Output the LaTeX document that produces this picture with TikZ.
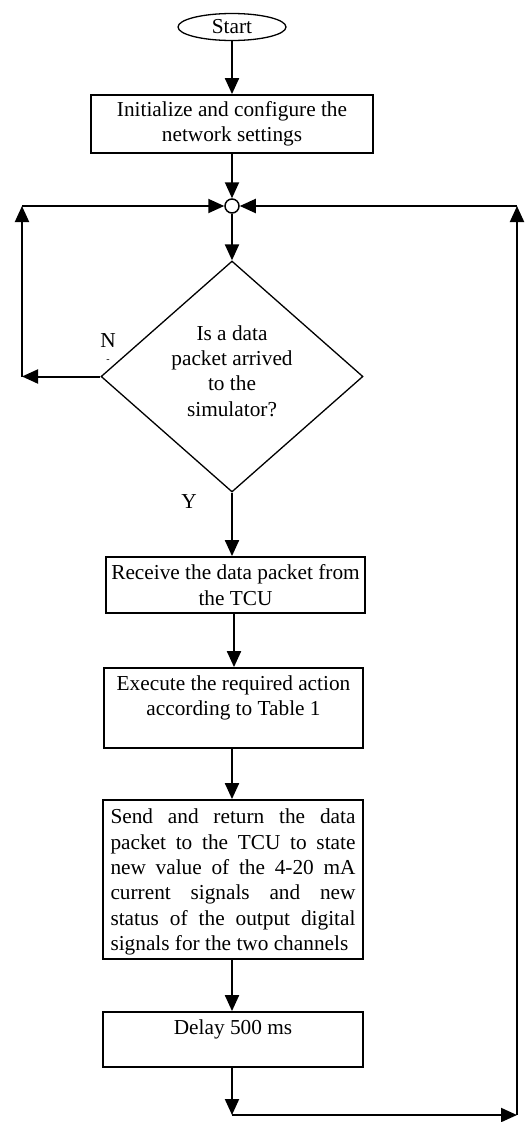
\documentclass[tikz,border=0pt]{standalone}
\usepackage{fontspec}
\setmainfont{Liberation Serif}
\usetikzlibrary{shapes.geometric,arrows.meta}
\begin{document}
\begin{tikzpicture}[x=1pt,y=-1pt,
  txt/.style={font=\fontsize{21.3pt}{25.3pt}\selectfont},
  box/.style={txt,draw,line width=1.8pt,rectangle,inner sep=0pt,align=center},
  conn/.style={line width=2pt,-{Triangle[length=16pt,width=14pt]}},
  ]
\useasboundingbox (0,0) rectangle (525,1122);
% nodes
\node[txt,draw,ellipse,line width=1.3pt,minimum width=108pt,minimum height=27pt,inner sep=0pt] (start) at (232,27) {Start};
\node[box,minimum width=282pt,minimum height=58pt] (init) at (232,124) {Initialize and configure the\\network settings};
\node[draw,circle,line width=1.5pt,fill=white,minimum size=14pt,inner sep=0pt] (junc) at (232,206) {};
\node[draw,diamond,line width=1.3pt,minimum width=262pt,minimum height=231pt,inner sep=0pt] (dec) at (232,376.5) {};
\node[txt,align=center] (dectext) at (232,371) {Is a data\\packet arrived\\to the\\simulator?};
\node[box,minimum width=259pt,minimum height=56pt] (recv) at (235.5,585) {Receive the data packet from\\the TCU};
\node[box,minimum width=259pt,minimum height=80pt] (exec) at (233.5,708) {Execute the required action\\according to Table 1\\\mbox{}};
\node[box,minimum width=260pt,minimum height=159pt] (send) at (233,879.5) {};
\node[txt,align=left,inner sep=0pt] (sendtext) at (233,882) {%
\spaceskip=0pt\xspaceskip=0pt
\makebox[245pt][s]{Send and return the data}\\
\makebox[245pt][s]{packet to the TCU to state}\\
\makebox[245pt][s]{new value of the 4-20 mA}\\
\makebox[245pt][s]{current signals and new}\\
\makebox[245pt][s]{status of the output digital}\\
\makebox[245pt][l]{signals for the two channels}};
\node[box,minimum width=260pt,minimum height=55pt] (delay) at (233,1039.5) {Delay 500 ms\\\mbox{}};
% labels
\node[txt] (nlab) at (108,341) {N};
\node[font=\fontsize{10pt}{11pt}\selectfont] (ndash) at (108,361) {-};
\node[txt] (ylab) at (189,502) {Y};
% corner coordinates
\coordinate (lb) at (22,376.5);
\coordinate (lt) at (22,206);
\coordinate (rt) at (517,206);
\coordinate (rb) at (517,1115);
\coordinate (bb) at (232,1115);
% connectors
\draw[conn] (start.south) -- (init.north);
\draw[conn] (init.south) -- (junc.north);
\draw[conn] (junc.south) -- (dec.north);
\draw[conn] (dec.west) -- (lb);
\draw[conn] (lb) -- (lt);
\draw[conn] (lt) -- (junc.west);
\draw[conn] (rb) -- (rt);
\draw[conn] (rt) -- (junc.east);
\draw[conn] (dec.south) -- (dec.south |- recv.north);
\draw[conn] ([xshift=-1.5pt]recv.south) -- ([xshift=-1.5pt]recv.south |- exec.north);
\draw[conn] ([xshift=-1.5pt]exec.south) -- ([xshift=-1.5pt]exec.south |- send.north);
\draw[conn] ([xshift=-1pt]send.south) -- ([xshift=-1pt]send.south |- delay.north);
\draw[conn] (delay.south -| bb) -- (bb);
\draw[conn] (bb) -- (rb);
\end{tikzpicture}
\end{document}
